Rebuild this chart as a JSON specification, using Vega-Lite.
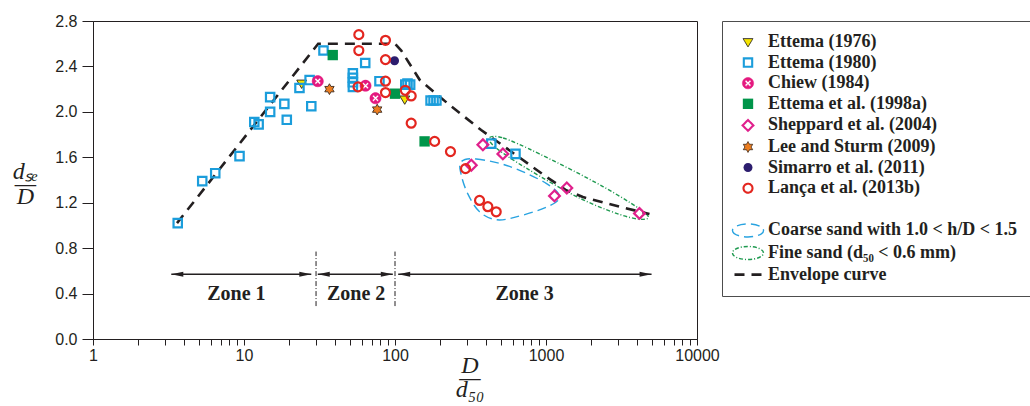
{
  "$schema": "https://vega.github.io/schema/vega-lite/v6.json",
  "width": 604,
  "height": 318,
  "autosize": {"type": "none"},
  "padding": {"left": 93, "top": 21, "right": 333, "bottom": 67},
  "background": "white",
  "datasets": {
    "pts": [
      {"series": "Ettema (1976)", "x": 24.1, "y": 2.25},
      {"series": "Ettema (1976)", "x": 116, "y": 2.11},
      {"series": "Ettema (1980)", "x": 3.64, "y": 1.02},
      {"series": "Ettema (1980)", "x": 5.29, "y": 1.39},
      {"series": "Ettema (1980)", "x": 6.45, "y": 1.46},
      {"series": "Ettema (1980)", "x": 9.34, "y": 1.61},
      {"series": "Ettema (1980)", "x": 11.7, "y": 1.91},
      {"series": "Ettema (1980)", "x": 12.5, "y": 1.89},
      {"series": "Ettema (1980)", "x": 14.9, "y": 2.13},
      {"series": "Ettema (1980)", "x": 14.9, "y": 2.0},
      {"series": "Ettema (1980)", "x": 18.5, "y": 2.07},
      {"series": "Ettema (1980)", "x": 19.2, "y": 1.93},
      {"series": "Ettema (1980)", "x": 23.3, "y": 2.21},
      {"series": "Ettema (1980)", "x": 27.2, "y": 2.28},
      {"series": "Ettema (1980)", "x": 27.9, "y": 2.05},
      {"series": "Ettema (1980)", "x": 33.6, "y": 2.54},
      {"series": "Ettema (1980)", "x": 52.6, "y": 2.22},
      {"series": "Ettema (1980)", "x": 52.6, "y": 2.26},
      {"series": "Ettema (1980)", "x": 52.6, "y": 2.3},
      {"series": "Ettema (1980)", "x": 52.6, "y": 2.34},
      {"series": "Ettema (1980)", "x": 63.5, "y": 2.43},
      {"series": "Ettema (1980)", "x": 78.9, "y": 2.27},
      {"series": "Ettema (1980)", "x": 117, "y": 2.24},
      {"series": "Ettema (1980)", "x": 121, "y": 2.25},
      {"series": "Ettema (1980)", "x": 126, "y": 2.24},
      {"series": "Ettema (1980)", "x": 172, "y": 2.1},
      {"series": "Ettema (1980)", "x": 180, "y": 2.1},
      {"series": "Ettema (1980)", "x": 188, "y": 2.1},
      {"series": "Ettema (1980)", "x": 434, "y": 1.72},
      {"series": "Ettema (1980)", "x": 628, "y": 1.63},
      {"series": "Chiew (1984)", "x": 30.8, "y": 2.27},
      {"series": "Chiew (1984)", "x": 63.8, "y": 2.23},
      {"series": "Chiew (1984)", "x": 74.3, "y": 2.12},
      {"series": "Ettema et al. (1998a)", "x": 38.7, "y": 2.5},
      {"series": "Ettema et al. (1998a)", "x": 100, "y": 2.16},
      {"series": "Ettema et al. (1998a)", "x": 157, "y": 1.74},
      {"series": "Sheppard et al. (2004)", "x": 320, "y": 1.53},
      {"series": "Sheppard et al. (2004)", "x": 382, "y": 1.71},
      {"series": "Sheppard et al. (2004)", "x": 518, "y": 1.63},
      {"series": "Sheppard et al. (2004)", "x": 1138, "y": 1.26},
      {"series": "Sheppard et al. (2004)", "x": 1373, "y": 1.33},
      {"series": "Sheppard et al. (2004)", "x": 4159, "y": 1.106},
      {"series": "Lee and Sturm (2009)", "x": 36.8, "y": 2.2},
      {"series": "Lee and Sturm (2009)", "x": 76.2, "y": 2.02},
      {"series": "Simarro et al. (2011)", "x": 99.3, "y": 2.45},
      {"series": "Lança et al. (2013b)", "x": 57.6, "y": 2.68},
      {"series": "Lança et al. (2013b)", "x": 57.6, "y": 2.54},
      {"series": "Lança et al. (2013b)", "x": 86.5, "y": 2.63},
      {"series": "Lança et al. (2013b)", "x": 86.5, "y": 2.46},
      {"series": "Lança et al. (2013b)", "x": 86.5, "y": 2.27},
      {"series": "Lança et al. (2013b)", "x": 86.5, "y": 2.17},
      {"series": "Lança et al. (2013b)", "x": 56.9, "y": 2.22},
      {"series": "Lança et al. (2013b)", "x": 117, "y": 2.19},
      {"series": "Lança et al. (2013b)", "x": 128, "y": 2.14},
      {"series": "Lança et al. (2013b)", "x": 128, "y": 1.9},
      {"series": "Lança et al. (2013b)", "x": 183, "y": 1.74},
      {"series": "Lança et al. (2013b)", "x": 233, "y": 1.65},
      {"series": "Lança et al. (2013b)", "x": 293, "y": 1.5},
      {"series": "Lança et al. (2013b)", "x": 363, "y": 1.22},
      {"series": "Lança et al. (2013b)", "x": 412, "y": 1.165},
      {"series": "Lança et al. (2013b)", "x": 468, "y": 1.12}
    ],
    "ellipses": [
      {"series": "Coarse sand with 1.0 < h/D < 1.5", "idx": 0, "x": 274, "y": 1.56},
      {"series": "Coarse sand with 1.0 < h/D < 1.5", "idx": 1, "x": 345, "y": 1.585},
      {"series": "Coarse sand with 1.0 < h/D < 1.5", "idx": 2, "x": 573, "y": 1.52},
      {"series": "Coarse sand with 1.0 < h/D < 1.5", "idx": 3, "x": 1003, "y": 1.37},
      {"series": "Coarse sand with 1.0 < h/D < 1.5", "idx": 4, "x": 1228, "y": 1.25},
      {"series": "Coarse sand with 1.0 < h/D < 1.5", "idx": 5, "x": 1003, "y": 1.16},
      {"series": "Coarse sand with 1.0 < h/D < 1.5", "idx": 6, "x": 635, "y": 1.075},
      {"series": "Coarse sand with 1.0 < h/D < 1.5", "idx": 7, "x": 468, "y": 1.05},
      {"series": "Coarse sand with 1.0 < h/D < 1.5", "idx": 8, "x": 363, "y": 1.12},
      {"series": "Coarse sand with 1.0 < h/D < 1.5", "idx": 9, "x": 303, "y": 1.28},
      {"series": "Coarse sand with 1.0 < h/D < 1.5", "idx": 10, "x": 274, "y": 1.45},
      {"series": "Fine sand (d₅₀ < 0.6 mm)", "idx": 0, "x": 420, "y": 1.77},
      {"series": "Fine sand (d₅₀ < 0.6 mm)", "idx": 1, "x": 520, "y": 1.77},
      {"series": "Fine sand (d₅₀ < 0.6 mm)", "idx": 2, "x": 905, "y": 1.63},
      {"series": "Fine sand (d₅₀ < 0.6 mm)", "idx": 3, "x": 2400, "y": 1.34},
      {"series": "Fine sand (d₅₀ < 0.6 mm)", "idx": 4, "x": 4700, "y": 1.09},
      {"series": "Fine sand (d₅₀ < 0.6 mm)", "idx": 5, "x": 3600, "y": 1.07},
      {"series": "Fine sand (d₅₀ < 0.6 mm)", "idx": 6, "x": 1700, "y": 1.235},
      {"series": "Fine sand (d₅₀ < 0.6 mm)", "idx": 7, "x": 750, "y": 1.5},
      {"series": "Fine sand (d₅₀ < 0.6 mm)", "idx": 8, "x": 470, "y": 1.68}
    ],
    "envelope": [
      {"series": "Envelope curve", "x": 3.6, "y": 1.02},
      {"series": "Envelope curve", "x": 31, "y": 2.6},
      {"series": "Envelope curve", "x": 100, "y": 2.6},
      {"series": "Envelope curve", "x": 110, "y": 2.54},
      {"series": "Envelope curve", "x": 146, "y": 2.28},
      {"series": "Envelope curve", "x": 230, "y": 2.06},
      {"series": "Envelope curve", "x": 372, "y": 1.84},
      {"series": "Envelope curve", "x": 618, "y": 1.63},
      {"series": "Envelope curve", "x": 1000, "y": 1.43},
      {"series": "Envelope curve", "x": 1361, "y": 1.31},
      {"series": "Envelope curve", "x": 1754, "y": 1.25},
      {"series": "Envelope curve", "x": 3069, "y": 1.165},
      {"series": "Envelope curve", "x": 4845, "y": 1.1}
    ],
    "arrows": [
      {"x": 3.3, "xe": 27.9, "y": 0.57},
      {"x": 30.8, "xe": 96.7, "y": 0.57},
      {"x": 105, "xe": 5000, "y": 0.57}
    ],
    "headsL": [
      {"x": 3.3, "y": 0.57},
      {"x": 30.8, "y": 0.57},
      {"x": 105, "y": 0.57}
    ],
    "headsR": [
      {"x": 27.9, "y": 0.57},
      {"x": 96.7, "y": 0.57},
      {"x": 5000, "y": 0.57}
    ],
    "vlines": [
      {"x": 30, "y": 0.29, "y2": 0.77},
      {"x": 100, "y": 0.29, "y2": 0.77}
    ],
    "zones": [
      {"label": "Zone 1", "x": 8.9, "y": 0.4},
      {"label": "Zone 2", "x": 55.3, "y": 0.4},
      {"label": "Zone 3", "x": 721, "y": 0.4}
    ]
  },
  "encoding": {
    "x": {
      "field": "x", "type": "quantitative",
      "scale": {"type": "log", "domain": [1, 10000], "nice": false},
      "axis": {
        "values": [1,2,3,4,5,6,7,8,9,10,20,30,40,50,60,70,80,90,100,200,300,400,500,600,700,800,900,1000,2000,3000,4000,5000,6000,7000,8000,9000,10000],
        "format": "d",
        "labelExpr": "indexof(['1','10','100','1000','10000'], datum.label) >= 0 ? datum.label : ''",
        "labelOverlap": false, "labelFlush": false,
        "tickSize": 6, "labelPadding": 2,
        "title": ["D", "—", "d₅₀"],
        "titleFont": "Liberation Serif", "titleFontStyle": "italic", "titleFontWeight": "normal", "titleFontSize": 24,
        "titleX": 376.5, "titleY": 33, "titleAlign": "center", "titleBaseline": "alphabetic", "titleLineHeight": 12
      }
    },
    "y": {
      "field": "y", "type": "quantitative",
      "scale": {"domain": [0, 2.8], "nice": false, "zero": false},
      "axis": {
        "values": [0, 0.4, 0.8, 1.2, 1.6, 2.0, 2.4, 2.8],
        "format": ".1f",
        "tickSize": 11, "labelPadding": 5,
        "title": ["dₛₑ", "—", "D"],
        "titleAngle": 0,
        "titleFont": "Liberation Serif", "titleFontStyle": "italic", "titleFontWeight": "normal", "titleFontSize": 24,
        "titleX": -68, "titleY": 157, "titleAlign": "center", "titleBaseline": "alphabetic", "titleLineHeight": 12.5
      }
    }
  },
  "layer": [
    {
      "data": {"name": "ellipses"},
      "mark": {"type": "line", "interpolate": "cardinal-closed", "strokeWidth": 1.4},
      "encoding": {
        "order": {"field": "idx", "type": "quantitative"},
        "stroke": {
          "field": "series", "type": "nominal", "title": null,
          "scale": {"domain": ["Ettema (1976)","Ettema (1980)","Chiew (1984)","Ettema et al. (1998a)","Sheppard et al. (2004)","Lee and Sturm (2009)","Simarro et al. (2011)","Lança et al. (2013b)"," ","Coarse sand with 1.0 < h/D < 1.5","Fine sand (d₅₀ < 0.6 mm)","Envelope curve"],
                    "range": ["#231f20","#1b9ddb","#e4197f","#00954a","#e0208c","#3d2b1f","#2c1d6e","#e3261f","transparent","#29a3e0","#1f9a50","#231f20"]},
          "legend": {"title": null, "encode": {"symbols": {"update": {"shape": {"scale": "shape", "field": "value"}, "fill": {"scale": "fill", "field": "value"}, "stroke": {"scale": "stroke", "field": "value"}, "strokeDash": {"scale": "strokeDash", "field": "value"}, "opacity": {"value": 1}, "strokeWidth": {"signal": "datum.value === 'Envelope curve' ? 2.6 : (datum.value === 'Ettema (1976)' || datum.value === 'Lee and Sturm (2009)') ? 0.9 : (datum.value === 'Chiew (1984)') ? 0.5 : (datum.value === 'Ettema et al. (1998a)' || datum.value === 'Simarro et al. (2011)') ? 0 : (datum.value === 'Ettema (1980)' || datum.value === 'Sheppard et al. (2004)' || datum.value === 'Lança et al. (2013b)') ? 2.1 : 1.4"}}}}}
        },
        "strokeDash": {
          "field": "series", "type": "nominal", "title": null,
          "scale": {"domain": ["Ettema (1976)","Ettema (1980)","Chiew (1984)","Ettema et al. (1998a)","Sheppard et al. (2004)","Lee and Sturm (2009)","Simarro et al. (2011)","Lança et al. (2013b)"," ","Coarse sand with 1.0 < h/D < 1.5","Fine sand (d₅₀ < 0.6 mm)","Envelope curve"],
                    "range": [[1,0],[1,0],[1,0],[1,0],[1,0],[1,0],[1,0],[1,0],[1,0],[9,5],[4,2,1,2],[10,7]]},
          "legend": {"title": null}
        }
      }
    },
    {
      "data": {"name": "envelope"},
      "mark": {"type": "line", "strokeWidth": 2.6},
      "encoding": {
        "stroke": {
          "field": "series", "type": "nominal", "title": null,
          "scale": {"domain": ["Ettema (1976)","Ettema (1980)","Chiew (1984)","Ettema et al. (1998a)","Sheppard et al. (2004)","Lee and Sturm (2009)","Simarro et al. (2011)","Lança et al. (2013b)"," ","Coarse sand with 1.0 < h/D < 1.5","Fine sand (d₅₀ < 0.6 mm)","Envelope curve"],
                    "range": ["#231f20","#1b9ddb","#e4197f","#00954a","#e0208c","#3d2b1f","#2c1d6e","#e3261f","transparent","#29a3e0","#1f9a50","#231f20"]},
          "legend": {"title": null}
        },
        "strokeDash": {
          "field": "series", "type": "nominal", "title": null,
          "scale": {"domain": ["Ettema (1976)","Ettema (1980)","Chiew (1984)","Ettema et al. (1998a)","Sheppard et al. (2004)","Lee and Sturm (2009)","Simarro et al. (2011)","Lança et al. (2013b)"," ","Coarse sand with 1.0 < h/D < 1.5","Fine sand (d₅₀ < 0.6 mm)","Envelope curve"],
                    "range": [[1,0],[1,0],[1,0],[1,0],[1,0],[1,0],[1,0],[1,0],[1,0],[9,5],[4,2,1,2],[10,7]]},
          "legend": {"title": null}
        }
      }
    },
    {
      "data": {"name": "pts"},
      "mark": {"type": "point", "size": 81, "opacity": 1},
      "encoding": {
        "shape": {
          "field": "series", "type": "nominal", "title": null,
          "scale": {"domain": ["Ettema (1976)","Ettema (1980)","Chiew (1984)","Ettema et al. (1998a)","Sheppard et al. (2004)","Lee and Sturm (2009)","Simarro et al. (2011)","Lança et al. (2013b)"," ","Coarse sand with 1.0 < h/D < 1.5","Fine sand (d₅₀ < 0.6 mm)","Envelope curve"],
                    "range": [
                      "M-1.1,-0.75L1.1,-0.75L0,1.1Z",
                      "M-0.93,-0.93L0.93,-0.93L0.93,0.93L-0.93,0.93Z",
                      "M0,-1.25A1.25,1.25 0 1,1 0,1.25A1.25,1.25 0 1,1 0,-1.25ZM0.424,-0.707L0,-0.283L-0.424,-0.707L-0.707,-0.424L-0.283,0L-0.707,0.424L-0.424,0.707L0,0.283L0.424,0.707L0.707,0.424L0.283,0L0.707,-0.424Z",
                      "M-1.15,-1.15L1.15,-1.15L1.15,1.15L-1.15,1.15Z",
                      "M0,-1.2L1.2,0L0,1.2L-1.2,0Z",
                      "M0,-1.2L0.346,-0.6L1.039,-0.6L0.693,0L1.039,0.6L0.346,0.6L0,1.2L-0.346,0.6L-1.039,0.6L-0.693,0L-1.039,-0.6L-0.346,-0.6Z",
                      "M-1,0A1,1 0 1,0 1,0A1,1 0 1,0 -1,0Z",
                      "M-1,0A1,1 0 1,0 1,0A1,1 0 1,0 -1,0Z",
                      "M0,0L0,0",
                      "M-3.45,0A3.45,1.45 0 1,0 3.45,0A3.45,1.45 0 1,0 -3.45,0Z",
                      "M-3.45,0A3.45,1.45 0 1,0 3.45,0A3.45,1.45 0 1,0 -3.45,0Z",
                      "M-3.0,0L3.0,0"
                    ]},
          "legend": {"title": null}
        },
        "fill": {
          "field": "series", "type": "nominal", "title": null,
          "scale": {"domain": ["Ettema (1976)","Ettema (1980)","Chiew (1984)","Ettema et al. (1998a)","Sheppard et al. (2004)","Lee and Sturm (2009)","Simarro et al. (2011)","Lança et al. (2013b)"," ","Coarse sand with 1.0 < h/D < 1.5","Fine sand (d₅₀ < 0.6 mm)","Envelope curve"],
                    "range": ["#f5e400","transparent","#e4197f","#00954a","transparent","#ec7d1f","#2c1d6e","transparent","transparent","transparent","transparent","transparent"]},
          "legend": {"title": null}
        },
        "stroke": {
          "field": "series", "type": "nominal", "title": null,
          "scale": {"domain": ["Ettema (1976)","Ettema (1980)","Chiew (1984)","Ettema et al. (1998a)","Sheppard et al. (2004)","Lee and Sturm (2009)","Simarro et al. (2011)","Lança et al. (2013b)"," ","Coarse sand with 1.0 < h/D < 1.5","Fine sand (d₅₀ < 0.6 mm)","Envelope curve"],
                    "range": ["#231f20","#1b9ddb","#e4197f","#00954a","#e0208c","#3d2b1f","#2c1d6e","#e3261f","transparent","#29a3e0","#1f9a50","#231f20"]},
          "legend": {"title": null}
        },
        "strokeWidth": {
          "condition": [
            {"test": "datum.series === 'Ettema (1976)' || datum.series === 'Lee and Sturm (2009)'", "value": 0.9},
            {"test": "datum.series === 'Chiew (1984)'", "value": 0.5},
            {"test": "datum.series === 'Ettema et al. (1998a)' || datum.series === 'Simarro et al. (2011)'", "value": 0}
          ],
          "value": 2.2
        }
      }
    },
    {
      "data": {"name": "arrows"},
      "mark": {"type": "rule", "color": "#231f20", "strokeWidth": 1.3},
      "encoding": {"x2": {"field": "xe"}}
    },
    {
      "data": {"name": "headsL"},
      "mark": {"type": "point", "shape": "M0,0L2.2,-0.45L2.2,0.45Z", "size": 119, "filled": true, "color": "#231f20", "strokeWidth": 0, "opacity": 1},
      "encoding": {}
    },
    {
      "data": {"name": "headsR"},
      "mark": {"type": "point", "shape": "M0,0L-2.2,-0.45L-2.2,0.45Z", "size": 119, "filled": true, "color": "#231f20", "strokeWidth": 0, "opacity": 1},
      "encoding": {}
    },
    {
      "data": {"name": "vlines"},
      "mark": {"type": "rule", "color": "#231f20", "strokeWidth": 1, "strokeDash": [5, 2, 1, 2]},
      "encoding": {"y2": {"field": "y2"}}
    },
    {
      "data": {"name": "zones"},
      "mark": {"type": "text", "font": "Liberation Serif", "fontWeight": "bold", "fontSize": 20, "color": "#231f20", "baseline": "middle", "align": "center"},
      "encoding": {"text": {"field": "label", "type": "nominal"}}
    }
  ],
  "config": {
    "view": {"stroke": "#231f20", "strokeWidth": 1},
    "axis": {
      "grid": false,
      "domainColor": "#231f20", "tickColor": "#231f20", "labelColor": "#231f20", "titleColor": "#231f20",
      "labelFont": "Liberation Sans", "labelFontSize": 16, "domainWidth": 1, "tickWidth": 1
    },
    "legend": {
      "orient": "right", "offset": 25, "padding": 12,
      "strokeColor": "#4d4d4d", "fillColor": "white",
      "symbolSize": 81, "symbolStrokeWidth": 2,
      "symbolOffset": 5, "labelOffset": 11,
      "labelFont": "Liberation Serif", "labelFontSize": 18, "labelFontWeight": "bold", "labelColor": "#231f20",
      "labelLimit": 400, "rowPadding": 2.6
    }
  }
}
